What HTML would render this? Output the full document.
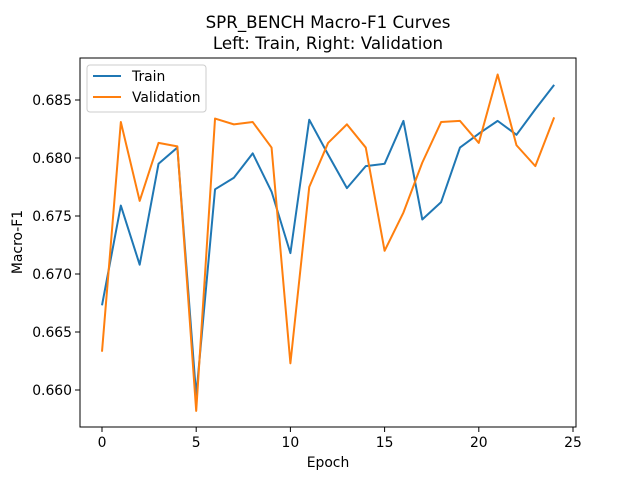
<!DOCTYPE html>
<html><head><meta charset="utf-8"><style>body{margin:0;background:#fff}svg{display:block;font-family:"DejaVu Sans","Liberation Sans",sans-serif}</style></head>
<body>
<svg id="chart" width="640" height="480">
<rect x="0" y="0" width="640" height="480" fill="#fff"/>
<text x="328" y="28" text-anchor="middle" font-size="16.7">SPR_BENCH Macro-F1 Curves</text>
<text x="328" y="49" text-anchor="middle" font-size="16.7">Left: Train, Right: Validation</text>
<g id="ticks"></g>
<g id="lines"></g>
<rect x="80" y="58" width="496" height="369" fill="none" stroke="#000" stroke-width="1"/>
<text x="328" y="467" text-anchor="middle" font-size="13.9">Epoch</text>
<text transform="translate(22,242) rotate(-90)" text-anchor="middle" font-size="13.9">Macro-F1</text>
<g>
<rect x="87" y="65" width="119" height="47" rx="3" fill="#fff" fill-opacity="0.8" stroke="#ccc"/>
<line x1="93" y1="76" x2="121" y2="76" stroke="#1f77b4" stroke-width="2"/>
<text x="132" y="81" font-size="13.9">Train</text>
<line x1="93" y1="97" x2="121" y2="97" stroke="#ff7f0e" stroke-width="2"/>
<text x="132" y="102" font-size="13.9">Validation</text>
</g>
</svg>
<script>
const epochs=[0,1,2,3,4,5,6,7,8,9,10,11,12,13,14,15,16,17,18,19,20,21,22,23,24];
const trainF1=[0.6673,0.6759,0.6708,0.6795,0.6809,0.6595,0.6773,0.6783,0.6804,0.6771,0.6718,0.6833,0.6803,0.6774,0.6793,0.6795,0.6832,0.6747,0.6762,0.6809,0.6821,0.6832,0.6820,0.6842,0.6863];
const valF1=[0.6633,0.6831,0.6763,0.6813,0.6810,0.6582,0.6834,0.6829,0.6831,0.6809,0.6623,0.6775,0.6813,0.6829,0.6809,0.6720,0.6753,0.6796,0.6831,0.6832,0.6813,0.6872,0.6811,0.6793,0.6835];
const xTicks=[0,5,10,15,20,25];
const yTicks=[0.660,0.665,0.670,0.675,0.680,0.685];
const NS='http://www.w3.org/2000/svg';
function xs(v){return 102+v*18.84;}
function ys(v){return 100+(0.685-v)*11600;}
const tg=document.getElementById('ticks');
function mk(t,a){const e=document.createElementNS(NS,t);for(const k in a)e.setAttribute(k,a[k]);return e;}
xTicks.forEach(t=>{
  const l=mk('line',{x1:xs(t),x2:xs(t),y1:427,y2:432,stroke:'#000'});
  
  
  tg.appendChild(l);
  const tx=mk('text',{x:xs(t),y:447,'text-anchor':'middle','font-size':13.9});
  
  
  tx.textContent=t;tg.appendChild(tx);
});
yTicks.forEach(t=>{
  const l=mk('line',{x1:75,x2:80,y1:ys(t),y2:ys(t),stroke:'#000'});
  
  
  tg.appendChild(l);
  const tx=mk('text',{x:72,y:ys(t)+5,'text-anchor':'end','font-size':13.9});
  
  
  tx.textContent=t.toFixed(3);tg.appendChild(tx);
});
const lg=document.getElementById('lines');
function line(vals,color,name){
  const p=mk('polyline',{points:vals.map((v,i)=>xs(epochs[i])+','+ys(v)).join(' '),fill:'none',stroke:color,'stroke-width':2,'stroke-linejoin':'round'});
  
  
  lg.appendChild(p);
}
line(trainF1,'#1f77b4','train-line');
line(valF1,'#ff7f0e','validation-line');
</script>
</body></html>
